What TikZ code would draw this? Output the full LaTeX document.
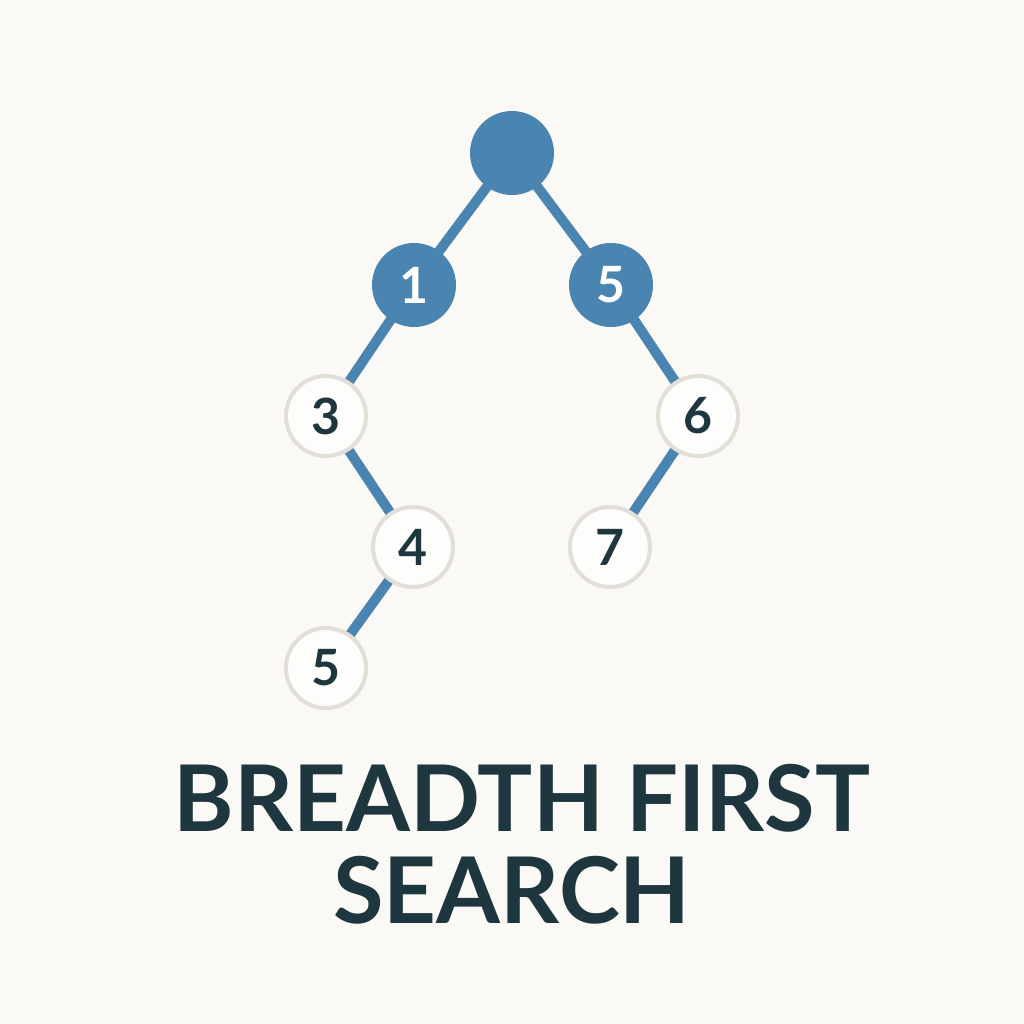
\documentclass[tikz,border=0pt]{standalone}
\usepackage{fontspec}
\setmainfont{Lato}
\definecolor{bg}{HTML}{FBF9F5}
\definecolor{bfsblue}{HTML}{4A84B0}
\definecolor{ink}{HTML}{1E363E}
\definecolor{ring}{HTML}{E2DFD7}
\tikzset{
  visited/.style={circle, fill=bfsblue, draw=none, minimum size=84pt, inner sep=0pt, text=white, font=\fontsize{50}{50}\selectfont\bfseries},
  unvisited/.style={circle, fill=white!60!bg, draw=ring, line width=4pt, minimum size=80pt, inner sep=0pt, text=ink, font=\fontsize{50}{50}\selectfont\bfseries},
  edge/.style={draw=bfsblue, line width=10pt},
  title/.style={text=ink, font=\fontsize{92}{92}\selectfont\bfseries, anchor=base}
}
\begin{document}
\begin{tikzpicture}[x=1pt,y=-1pt]
\fill[bg] (0,0) rectangle (1024,1024);
\useasboundingbox (0,0) rectangle (1024,1024);
\coordinate (cr) at (512,153);
\coordinate (c1) at (414,285);
\coordinate (c5) at (611,285);
\coordinate (c3) at (326,416);
\coordinate (c6) at (698,416);
\coordinate (c4) at (413,547);
\coordinate (c7) at (610,547);
\coordinate (c5b) at (326,668);
\draw[edge] (cr) -- (c1);
\draw[edge] (cr) -- (c5);
\draw[edge] (c1) -- (c3);
\draw[edge] (c5) -- (c6);
\draw[edge] (c3) -- (c4);
\draw[edge] (c6) -- (c7);
\draw[edge] (c4) -- (c5b);
\node[visited] (root) at (cr) {};
\node[visited] (n1) at (c1) {1};
\node[visited] (n5) at (c5) {5};
\node[unvisited] (n3) at (c3) {3};
\node[unvisited] (n6) at (c6) {6};
\node[unvisited] (n4) at (c4) {4};
\node[unvisited] (n7) at (c7) {7};
\node[unvisited] (n5b) at (c5b) {5};
\node[title] (t1) at (522,831) {BREADTH FIRST};
\node[title] (t2) at (512,923) {SEARCH};
\end{tikzpicture}
\end{document}
